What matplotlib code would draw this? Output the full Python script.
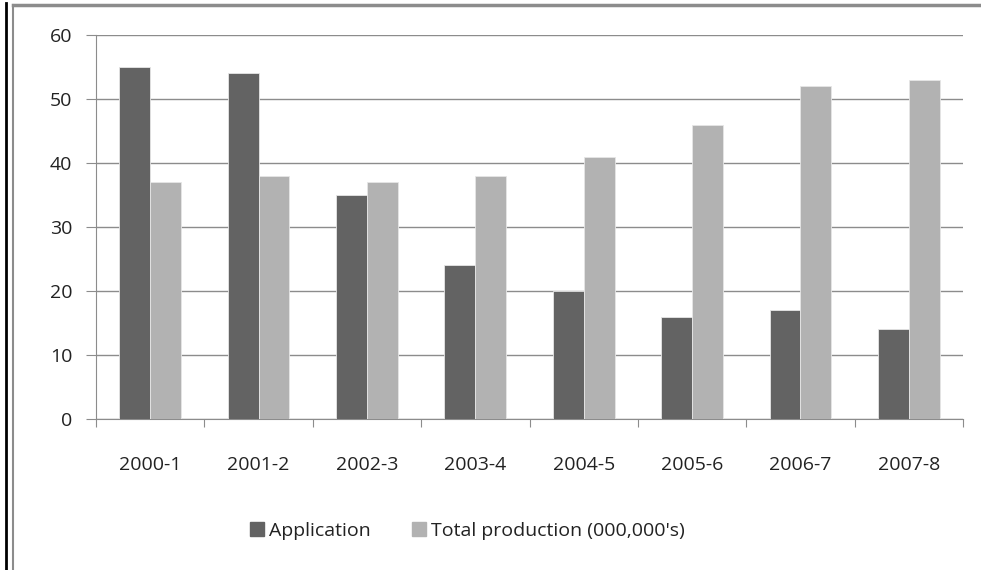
import matplotlib.pyplot as plt
import numpy as np
from matplotlib.lines import Line2D

# data
years = ['2000-1', '2001-2', '2002-3', '2003-4', '2004-5', '2005-6', '2006-7', '2007-8']
application = [55, 54, 35, 24, 20, 16, 17, 14]
total_production = [37, 38, 37, 38, 41, 46, 52, 53]

plt.rcParams['font.family'] = ['Open Sans', 'DejaVu Sans']
fs = 14

fig = plt.figure(figsize=(9.81, 5.70), dpi=100)
ax = fig.add_axes([96 / 981, 1 - 419 / 570, (963 - 96) / 981, (419 - 35) / 570])

x = np.arange(len(years))
w = 0.285
ax.bar(x - w / 2, application, w, color='#636363', edgecolor='#e6e6e6', linewidth=0.6,
       label='Application', zorder=3)
ax.bar(x + w / 2, total_production, w, color='#b2b2b2', edgecolor='#e6e6e6', linewidth=0.6,
       label="Total production (000,000's)", zorder=3)

ax.set_xlim(-0.5, len(years) - 0.5)
ax.set_ylim(0, 60)
ax.set_yticks(range(0, 61, 10))
ax.yaxis.grid(True, color='#8c8c8c', linewidth=1, zorder=0)
ax.set_axisbelow(True)

# category labels between the boundary ticks
ax.set_xticks(np.arange(-0.5, len(years), 1))
ax.set_xticklabels([])
ax.set_xticks(x, minor=True)
ax.set_xticklabels(years, minor=True)
ax.tick_params(axis='x', which='minor', length=0, pad=27, labelsize=fs, labelcolor='#222222')
ax.tick_params(axis='x', which='major', length=6, color='#8c8c8c', direction='out')
ax.tick_params(axis='y', length=7, color='#8c8c8c', pad=10, labelsize=fs, labelcolor='#222222')

for s in ['top', 'right']:
    ax.spines[s].set_visible(False)
ax.spines['left'].set_color('#8c8c8c')
ax.spines['bottom'].set_color('#8c8c8c')

handles = [Line2D([], [], marker='s', linestyle='', markersize=9.5, color='#636363'),
           Line2D([], [], marker='s', linestyle='', markersize=9.5, color='#b2b2b2')]
fig.legend(handles, ['Application', "Total production (000,000's)"], loc='center',
           bbox_to_anchor=(466 / 981, 1 - 531 / 570), ncol=2, frameon=False, fontsize=fs,
           handletextpad=0.1, columnspacing=2.0, handlelength=1.0, labelcolor='#222222')

# outer chart frame
fig.add_artist(Line2D([13 / 981, 1], [1 - 5 / 570, 1 - 5 / 570], color='#8c8c8c', linewidth=2.5,
                      transform=fig.transFigure))
fig.add_artist(Line2D([13 / 981, 13 / 981], [0, 1 - 5 / 570], color='#8c8c8c', linewidth=1.5,
                      transform=fig.transFigure))
fig.add_artist(Line2D([6 / 981, 6 / 981], [0, 1 - 3 / 570], color='black', linewidth=2,
                      transform=fig.transFigure))

fig.savefig('out.png', dpi=100)
